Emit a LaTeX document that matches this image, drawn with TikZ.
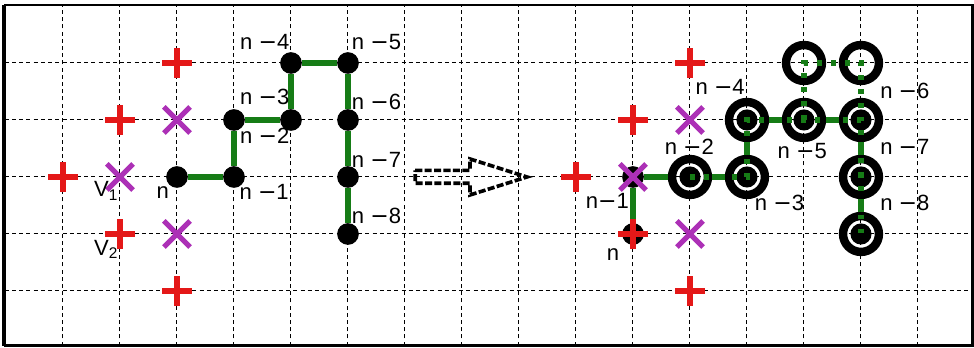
\documentclass[tikz,border=0pt]{standalone}
\usepackage{fontspec}
\setmainfont{Liberation Sans}
\newfontfamily\minusfont{DejaVu Sans}
\newcommand{\nminus}[1]{n {\minusfont −}#1}

\definecolor{plusred}{RGB}{228,24,24}
\definecolor{crosspurple}{RGB}{172,48,182}
\definecolor{chaingreen}{RGB}{22,124,22}

\tikzset{
  gridline/.style={black, line width=0.5pt, dash pattern=on 2pt off 1.6pt},
  chainline/.style={chaingreen, line width=3pt},
  oldchain/.style={chaingreen, line width=2.6pt, dash pattern=on 2.4pt off 4.6pt},
  dot/.style={circle, fill=black, inner sep=0pt, minimum size=0.38cm},
  smalldot/.style={circle, fill=black, inner sep=0pt, minimum size=0.37cm},
  ring/.style={circle, draw=black, line width=4.2pt, inner sep=0pt, minimum size=0.63cm},
  lbl/.style={anchor=base, inner sep=0pt, font=\fontsize{11}{13}\selectfont},
  redplus/.pic={\draw[plusred, line width=3.2pt] (-0.26,0) -- (0.26,0) (0,-0.26) -- (0,0.26);},
  purplecross/.pic={\draw[crosspurple, line width=2.6pt] (-0.23,-0.23) -- (0.23,0.23) (-0.23,0.23) -- (0.23,-0.23);}
}

\begin{document}
\begin{tikzpicture}
\useasboundingbox (-1.105,-2.983) rectangle (15.983,3.105);
\draw[gridline, step=1cm] (-1.02,-2.96) grid (15.96,3.02);
\draw[line width=1.3pt] (-1.02,-2.96) rectangle (15.96,3.02);
\draw[line width=2.2pt] (-1.03,-2.96) -- (-1.03,3.02);

% left: old chain
\pic at (0,0) {redplus};
\pic at (1,1) {redplus};
\pic at (1,-1) {redplus};
\pic at (2,2) {redplus};
\pic at (2,-2) {redplus};
\pic at (1,0) {purplecross};
\pic at (2,1) {purplecross};
\pic at (2,-1) {purplecross};

\path (2,0) node[dot] (a0) {};
\path (3,0) node[dot] (a1) {};
\path (3,1) node[dot] (a2) {};
\path (4,1) node[dot] (a3) {};
\path (4,2) node[dot] (a4) {};
\path (5,2) node[dot] (a5) {};
\path (5,1) node[dot] (a6) {};
\path (5,0) node[dot] (a7) {};
\path (5,-1) node[dot] (a8) {};
\draw[chainline] (a0) -- (a1) -- (a2) -- (a3) -- (a4) -- (a5) -- (a6) -- (a7) -- (a8);

\path (1.75,-0.37) node[lbl] (la0) {n};
\path (3.53,-0.39) node[lbl] (la1) {\nminus{1}};
\path (3.54,0.58) node[lbl] (la2) {\nminus{2}};
\path (3.54,1.28) node[lbl] (la3) {\nminus{3}};
\path (3.54,2.23) node[lbl] (la4) {\nminus{4}};
\path (5.5,2.23) node[lbl] (la5) {\nminus{5}};
\path (5.5,1.18) node[lbl] (la6) {\nminus{6}};
\path (5.5,0.16) node[lbl] (la7) {\nminus{7}};
\path (5.5,-0.81) node[lbl] (la8) {\nminus{8}};
\path (0.54,-0.35) node[lbl, anchor=base west] (v1) {V\textsubscript{1}};
\path (0.54,-1.37) node[lbl, anchor=base west] (v2) {V\textsubscript{2}};

% move arrow
\draw[line width=1.8pt, dash pattern=on 3.5pt off 1.2pt, line join=miter]
  (6.18,0.115) -- (7.14,0.115) -- (7.14,0.316) -- (8.14,0)
  -- (7.14,-0.316) -- (7.14,-0.11) -- (6.18,-0.11) -- cycle;

% right: new chain
\pic at (9,0) {redplus};
\pic at (10,1) {redplus};
\pic at (11,2) {redplus};
\pic at (11,-2) {redplus};
\pic at (11,1) {purplecross};
\pic at (11,-1) {purplecross};

\path (10,-1) node[dot] (b0) {};
\path (10,0) node[dot] (b1) {};
\path (11,0) node[ring] (b2) {};
\path (12,0) node[ring] (b3) {};
\path (12,1) node[ring] (b4) {};
\path (13,1) node[ring] (b5) {};
\path (14,1) node[ring] (b6) {};
\path (14,0) node[ring] (b7) {};
\path (14,-1) node[ring] (b8) {};
\path (13,2) node[ring] (g5) {};
\path (14,2) node[ring] (g6) {};
\draw[chainline] (b0) -- (b1) -- (b2) -- (b3) -- (b4) -- (b5) -- (b6) -- (b7) -- (b8);

\path (b2) node[smalldot] (c2) {};
\path (b3) node[smalldot] (c3) {};
\path (b4) node[smalldot] (c4) {};
\path (b5) node[smalldot] (c5) {};
\path (b6) node[smalldot] (c6) {};
\path (b7) node[smalldot] (c7) {};
\path (b8) node[smalldot] (c8) {};

\draw[oldchain] (c2.center) -- (c3.center) -- (c4.center) -- (c5.center)
  -- (c6.center) -- (c7.center) -- (c8.center);
\draw[oldchain] (c5.center) -- (g5.center) -- (g6.center) -- (c6.center);

\pic at (10,-1) {redplus};
\pic at (10,0) {purplecross};

\path (9.65,-1.46) node[lbl] (lb0) {n};
\path (9.55,-0.55) node[lbl] (lb1) {n{\minusfont −}1};
\path (10.99,0.40) node[lbl] (lb2) {\nminus{2}};
\path (12.57,-0.58) node[lbl] (lb3) {\nminus{3}};
\path (11.53,1.44) node[lbl] (lb4) {\nminus{4}};
\path (12.97,0.32) node[lbl] (lb5) {\nminus{5}};
\path (14.77,1.37) node[lbl] (lb6) {\nminus{6}};
\path (14.77,0.40) node[lbl] (lb7) {\nminus{7}};
\path (14.77,-0.59) node[lbl] (lb8) {\nminus{8}};
\end{tikzpicture}
\end{document}
